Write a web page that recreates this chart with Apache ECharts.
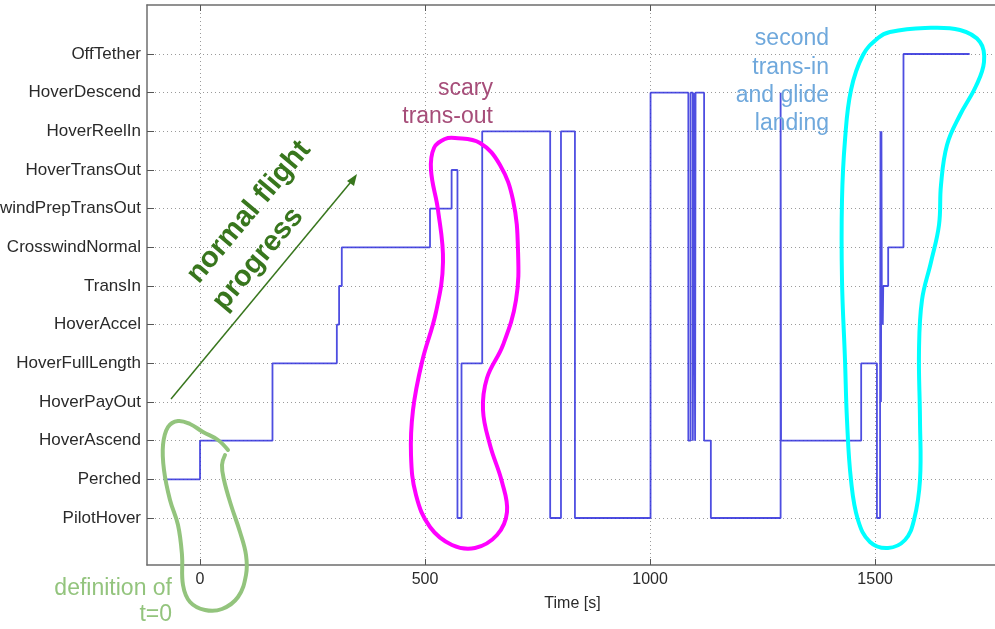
<!DOCTYPE html>
<html>
<head>
<meta charset="utf-8">
<script src="https://cdn.jsdelivr.net/npm/echarts@6/dist/echarts.min.js"></script>
<style>
  html, body { margin: 0; padding: 0; background: #ffffff; }
  #chart { width: 995px; height: 629px; }
</style>
</head>
<body>
<div id="chart"></div>
<script>
// Flight-mode states, listed from bottom to top of the y axis.
const states = [
  'PilotHover', 'Perched', 'HoverAscend', 'HoverPayOut', 'HoverFullLength',
  'HoverAccel', 'TransIn', 'CrosswindNormal', 'CrosswindPrepTransOut',
  'HoverTransOut', 'HoverReelIn', 'HoverDescend', 'OffTether'
];

// Time-axis tick labels [s].
const timeTicks = [0, 500, 1000, 1500];

// Mode changes: at stepTimes[i] the controller enters state stepStates[i].
const stepTimes = [
  -81, 0, 161, 304, 309, 315, 511, 559, 572, 581,
  627, 778, 802, 833, 1001, 1085, 1090, 1095, 1097, 1100,
  1101, 1120, 1135, 1290, 1291, 1469, 1504, 1511, 1512, 1513,
  1514, 1515, 1516, 1517, 1518, 1529, 1563, 1710
];
const stepStates = [
  1, 2, 4, 5, 6, 7, 8, 9, 0, 4,
  10, 0, 10, 0, 11, 2, 11, 2, 11, 2,
  11, 2, 0, 11, 2, 4, 0, 3, 10, 3,
  10, 5, 6, 5, 6, 7, 12, 12
];

const stateIndex = states.map((_, i) => i);
const modeData = stepTimes.map((t, i) => [t, stepStates[i]]);

const FONT = '"Liberation Sans", Arial, Helvetica, sans-serif';
const gridLine = { show: true, lineStyle: { color: '#9a9a9a', width: 1, type: [1, 3] } };
const frame = { show: true, onZero: false, lineStyle: { color: '#6e6e6e', width: 1.5 } };

const chart = echarts.init(document.getElementById('chart'), null, { renderer: 'canvas' });

// Hand-drawn highlight outlines and notes laid over the plot.
const greenLoop = [[228,450],[218,440],[203,432],[190,424],[178,421],[168,427],[163,445],[164,470],
  [170,500],[178,525],[182,555],[183,585],[190,602],[205,610],[222,609],[238,597],[246,575],
  [246,555],[240,532],[231,505],[224,480],[222,465],[225,455]];
const magentaLoop = [[455,138],[480,143],[500,165],[513,200],[518,250],[516,300],[503,345],[487,378],
  [483,410],[490,445],[502,482],[507,512],[497,535],[475,548],[452,545],[430,527],[416,495],
  [411,455],[413,410],[422,362],[436,312],[443,262],[438,210],[431,170],[434,148],[445,139]];
const cyanLoop = [[890,32],[925,28],[960,30],[980,42],[984,62],[976,86],[960,115],[947,145],[941,185],
  [939,225],[931,262],[922,300],[919,350],[920,420],[920,480],[914,520],[905,540],[888,548],
  [870,542],[858,520],[851,480],[847,420],[845,360],[842,280],[842,200],[845,140],[851,90],
  [863,55],[878,38]];

function note(text, x, y, color, align, size, extra) {
  return Object.assign({
    type: 'text', x: x, y: y, z: 100, silent: true,
    style: { text: text, x: 0, y: 0, fill: color, align: align, verticalAlign: 'middle',
             font: (size || '23px') + ' ' + FONT }
  }, extra || {});
}

const tilt = 50 * Math.PI / 180;

chart.setOption({
  animation: false,
  backgroundColor: '#ffffff',
  grid: { left: 147, right: -3, top: 5, bottom: 64, containLabel: false, outerBoundsMode: 'none' },
  xAxis: [{
    type: 'value', min: -117.8, max: 1773, position: 'bottom',
    name: 'Time [s]', nameLocation: 'middle', nameGap: 31,
    nameTextStyle: { color: '#2a2a2a', fontSize: 16, fontFamily: FONT },
    axisLine: frame,
    axisTick: { show: true, inside: true, length: 6, customValues: timeTicks, lineStyle: { color: '#555' } },
    axisLabel: { customValues: timeTicks, margin: 7, color: '#2a2a2a', fontSize: 16, fontFamily: FONT,
                 formatter: v => String(v) },
    splitLine: gridLine
  }, {
    type: 'value', min: -117.8, max: 1773, position: 'top',
    axisLine: frame,
    axisTick: { show: true, inside: true, length: 6, customValues: timeTicks, lineStyle: { color: '#555' } },
    axisLabel: { show: false },
    splitLine: { show: false }
  }],
  yAxis: {
    type: 'value', min: -1.215, max: 13.267,
    axisLine: frame,
    axisTick: { show: true, inside: true, length: 7, customValues: stateIndex, lineStyle: { color: '#555' } },
    axisLabel: {
      customValues: stateIndex, margin: 6, color: '#2a2a2a', fontSize: 17, fontFamily: FONT,
      formatter: v => states[Math.round(v)]
    },
    splitLine: gridLine
  },
  series: [{
    type: 'line', step: 'end', xAxisIndex: 0, yAxisIndex: 0,
    data: modeData, showSymbol: false, symbol: 'none', clip: true,
    lineStyle: { color: '#2f2fdc', width: 1.8, opacity: 0.85 }
  }],
  graphic: [
    { type: 'polyline', z: 90, silent: true, shape: { points: greenLoop, smooth: 0.4 },
      style: { stroke: '#93c47d', lineWidth: 4, fill: null, lineCap: 'round' } },
    { type: 'polygon', z: 90, silent: true, shape: { points: magentaLoop, smooth: 0.4 },
      style: { stroke: '#ff00ff', lineWidth: 4, fill: null } },
    { type: 'polygon', z: 90, silent: true, shape: { points: cyanLoop, smooth: 0.4 },
      style: { stroke: '#00ffff', lineWidth: 4, fill: null } },
    { type: 'line', z: 90, silent: true, shape: { x1: 171, y1: 399, x2: 355, y2: 177 },
      style: { stroke: '#38761d', lineWidth: 1.5 } },
    { type: 'polygon', z: 90, silent: true,
      shape: { points: [[357, 174], [347, 181], [354, 186]] },
      style: { fill: '#38761d' } },
    note('normal flight', 249, 212, '#38761d', 'center', 'bold 29px', { rotation: tilt }),
    note('progress', 258, 259, '#38761d', 'center', 'bold 29px', { rotation: tilt }),
    note('definition of', 172, 589, '#93c47d', 'right'),
    note('t=0', 172, 615, '#93c47d', 'right'),
    note('scary', 493, 88.5, '#a64d79', 'right'),
    note('trans-out', 493, 117, '#a64d79', 'right'),
    note('second', 829, 39, '#6fa8dc', 'right'),
    note('trans-in', 829, 67.5, '#6fa8dc', 'right'),
    note('and glide', 829, 95.5, '#6fa8dc', 'right'),
    note('landing', 829, 124, '#6fa8dc', 'right')
  ]
});
</script>
</body>
</html>
